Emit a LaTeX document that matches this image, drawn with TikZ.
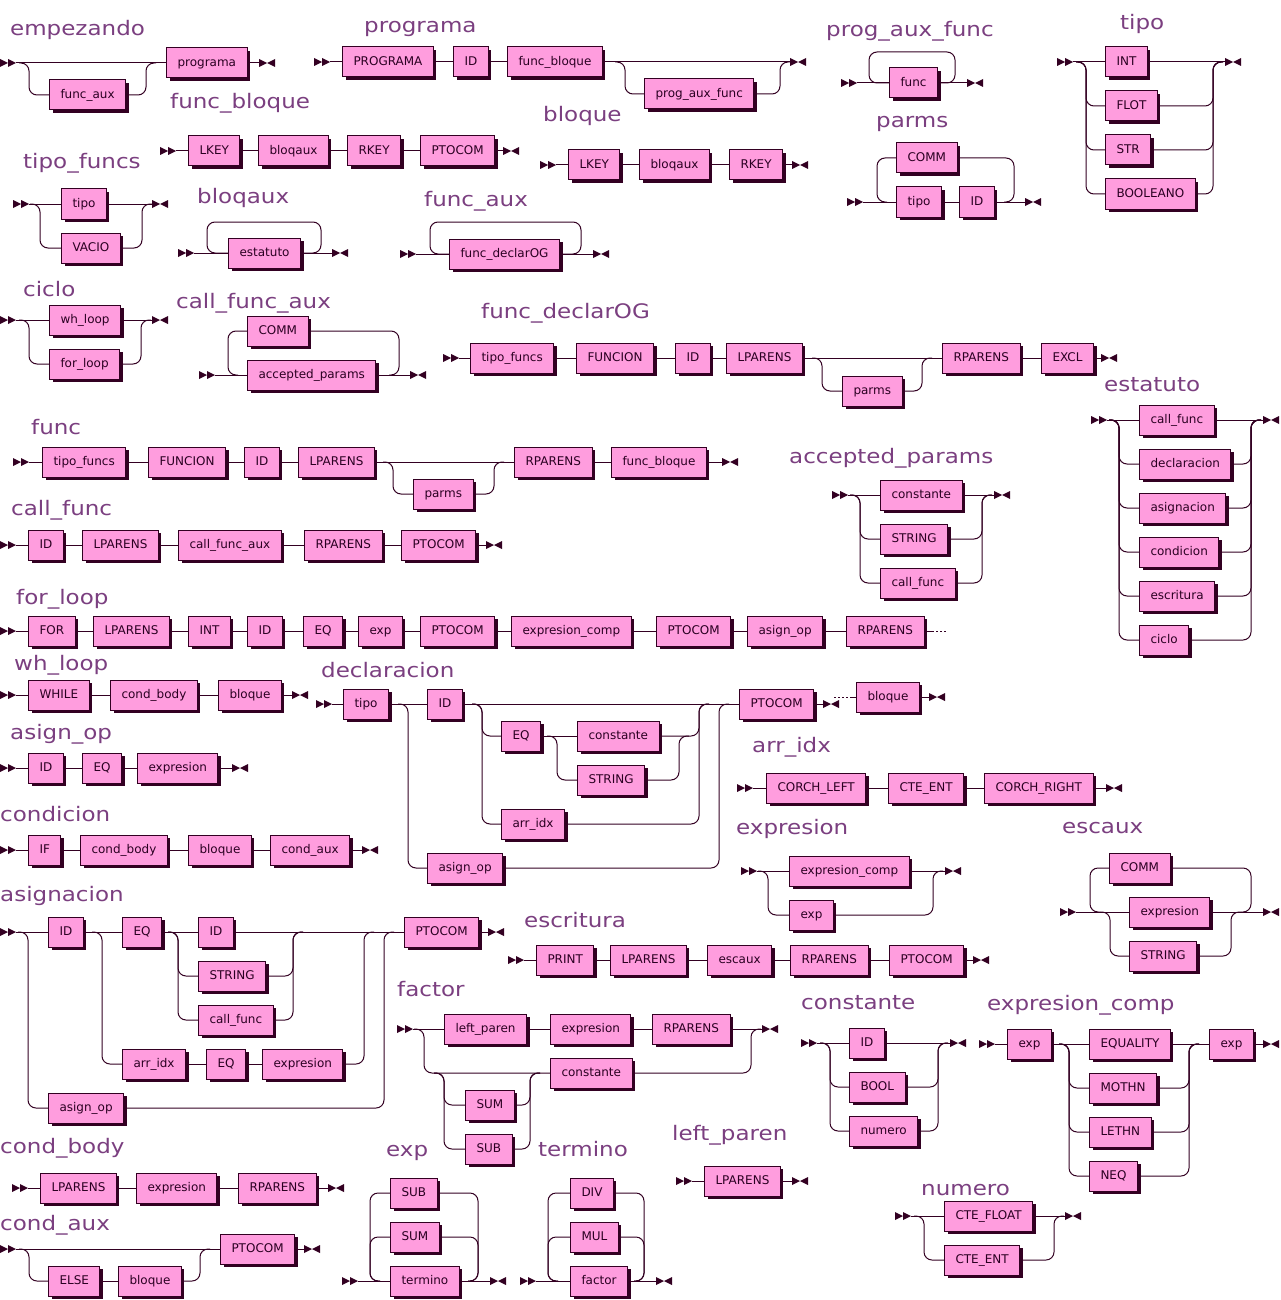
\documentclass[tikz,border=0pt]{standalone}
\usepackage{fontspec}
\setmainfont{DejaVu Sans}
\definecolor{rrdark}{HTML}{330022}
\definecolor{rrfill}{HTML}{FF9DDE}
\definecolor{rrtitle}{HTML}{7B3F80}
\definecolor{rrtext}{HTML}{2B0022}
\tikzset{
 rrl/.style={draw=rrdark, line width=1pt, rounded corners=8pt},
 rrdots/.style={draw=rrdark, line width=1pt, dash pattern=on 2pt off 2pt},
 tb/.style={draw=rrdark, line width=1pt, fill=rrfill, text=rrtext, anchor=west,
   minimum height=30pt, inner xsep=11pt, inner ysep=0pt, text height=9pt, text depth=2.5pt,
   font=\fontsize{12}{14}\selectfont,
   preaction={fill=rrdark, transform canvas={xshift=3pt,yshift=-3pt}}},
 ttl/.style={anchor=base west, inner sep=0pt, text=rrtitle, font=\fontsize{20}{24}\selectfont},
}
\newcommand\RRtitle[4]{\node[ttl] (#1) at (#2,#3) {\scalebox{1.15}[1]{#4}};}
\newcommand\RRstart[3]{\fill[rrdark] (#2,#3-4) -- (#2+8,#3) -- (#2,#3+4) -- cycle (#2+8,#3-4) -- (#2+16,#3) -- (#2+8,#3+4) -- cycle; \coordinate (#1) at (#2+16,#3);}
\newcommand\RRend[3]{\fill[rrdark] (#2,#3-4) -- (#2+8,#3) -- (#2,#3+4) -- cycle (#2+16,#3-4) -- (#2+8,#3) -- (#2+16,#3+4) -- cycle; \coordinate (#1) at (#2,#3);}
\newcommand\RRdown[3]{\draw[rrl] (#1-10,#2) -- (#1,#2) |- (#3.west);}
\newcommand\RRup[3]{\draw[rrl] (#3.east) -| (#1,#2) -- (#1+10,#2);}
\newcommand\RRlpl[3]{\draw[rrl] (#3.west) -| (#1,#2) -- (#1+10,#2);}
\newcommand\RRlpr[3]{\draw[rrl] (#3.east) -| (#1,#2) -- (#1-10,#2);}
\begin{document}
\begin{tikzpicture}[x=1pt,y=-1pt]
\fill[white] (0,0) rectangle (1280,1300);
\useasboundingbox (0,0) rectangle (1280,1300);

% empezando
\RRtitle{t-em}{10}{36}{empezando}
\RRstart{em-s}{0}{63}
\node[tb] (em-a) at (166,63) {programa};
\node[tb] (em-b) at (49,95) {func\_aux};
\RRend{em-e}{259}{63}
\draw[rrl] (em-s) -- (em-a.west) (em-a.east) -- (em-e);
\RRdown{29}{63}{em-b}
\RRup{146}{63}{em-b}

% programa
\RRtitle{t-pg}{364}{33}{programa}
\RRstart{pg-s}{314}{62}
\node[tb] (pg-a) at (342,62) {PROGRAMA};
\node[tb] (pg-b) at (453,62) {ID};
\node[tb] (pg-c) at (507,62) {func\_bloque};
\node[tb] (pg-d) at (644,94) {prog\_aux\_func};
\RRend{pg-e}{790}{62}
\draw[rrl] (pg-s) -- (pg-a.west) (pg-a.east) -- (pg-b.west) (pg-b.east) -- (pg-c.west) (pg-c.east) -- (pg-e);
\RRdown{625}{62}{pg-d}
\RRup{780}{62}{pg-d}

% prog_aux_func
\RRtitle{t-pa}{826}{37}{prog\_aux\_func}
\RRstart{pa-s}{841}{83}
\node[tb] (pa-a) at (889,83) {func};
\RRend{pa-e}{967}{83}
\draw[rrl] (pa-s) -- (pa-a.west) (pa-a.east) -- (pa-e);
\draw[rrl] (pa-a.east) -- (955,83) -- (955,52) -- (869,52) -- (869,83) -- (pa-a.west);

% tipo
\RRtitle{t-tp}{1120}{30}{tipo}
\RRstart{tp-s}{1057}{62}
\node[tb] (tp-a) at (1105,62) {INT};
\node[tb] (tp-b) at (1105,106) {FLOT};
\node[tb] (tp-c) at (1105,150) {STR};
\node[tb] (tp-d) at (1105,194) {BOOLEANO};
\RRend{tp-e}{1225}{62}
\draw[rrl] (tp-s) -- (tp-a.west) (tp-a.east) -- (tp-e);
\RRdown{1086}{62}{tp-b}\RRdown{1086}{62}{tp-c}\RRdown{1086}{62}{tp-d}
\RRup{1213}{62}{tp-b}\RRup{1213}{62}{tp-c}\RRup{1213}{62}{tp-d}

% func_bloque
\RRtitle{t-fb}{170}{109}{func\_bloque}
\RRstart{fb-s}{160}{151}
\node[tb] (fb-a) at (188,151) {LKEY};
\node[tb] (fb-b) at (258,151) {bloqaux};
\node[tb] (fb-c) at (347,151) {RKEY};
\node[tb] (fb-d) at (420,151) {PTOCOM};
\RRend{fb-e}{503}{151}
\draw[rrl] (fb-s) -- (fb-a.west) (fb-a.east) -- (fb-b.west) (fb-b.east) -- (fb-c.west) (fb-c.east) -- (fb-d.west) (fb-d.east) -- (fb-e);

% bloque
\RRtitle{t-bq}{543}{122}{bloque}
\RRstart{bq-s}{540}{165}
\node[tb] (bq-a) at (568,165) {LKEY};
\node[tb] (bq-b) at (639,165) {bloqaux};
\node[tb] (bq-c) at (729,165) {RKEY};
\RRend{bq-e}{792}{165}
\draw[rrl] (bq-s) -- (bq-a.west) (bq-a.east) -- (bq-b.west) (bq-b.east) -- (bq-c.west) (bq-c.east) -- (bq-e);

% parms
\RRtitle{t-pm}{876}{128}{parms}
\RRstart{pm-s}{847}{202}
\node[tb] (pm-a) at (896,202) {tipo};
\node[tb] (pm-b) at (959,202) {ID};
\node[tb] (pm-c) at (896,158) {COMM};
\RRend{pm-e}{1025}{202}
\draw[rrl] (pm-s) -- (pm-a.west) (pm-a.east) -- (pm-b.west) (pm-b.east) -- (pm-e);
\RRlpl{877}{202}{pm-c}
\RRlpr{1014}{202}{pm-c}

% tipo_funcs
\RRtitle{t-tf}{23}{168}{tipo\_funcs}
\RRstart{tf-s}{13}{204}
\node[tb] (tf-a) at (61,204) {tipo};
\node[tb] (tf-b) at (61,248) {VACIO};
\RRend{tf-e}{152}{204}
\draw[rrl] (tf-s) -- (tf-a.west) (tf-a.east) -- (tf-e);
\RRdown{40}{204}{tf-b}
\RRup{142}{204}{tf-b}

% bloqaux
\RRtitle{t-ba}{197}{204}{bloqaux}
\RRstart{ba-s}{178}{253}
\node[tb] (ba-a) at (228,253) {estatuto};
\RRend{ba-e}{332}{253}
\draw[rrl] (ba-s) -- (ba-a.west) (ba-a.east) -- (ba-e);
\draw[rrl] (ba-a.east) -- (321,253) -- (321,222) -- (207,222) -- (207,253) -- (ba-a.west);

% func_aux
\RRtitle{t-fa}{424}{206}{func\_aux}
\RRstart{fa-s}{400}{254}
\node[tb] (fa-a) at (449,254) {func\_declarOG};
\RRend{fa-e}{593}{254}
\draw[rrl] (fa-s) -- (fa-a.west) (fa-a.east) -- (fa-e);
\draw[rrl] (fa-a.east) -- (581,254) -- (581,222) -- (430,222) -- (430,254) -- (fa-a.west);

% ciclo
\RRtitle{t-ci}{23}{296}{ciclo}
\RRstart{ci-s}{0}{320}
\node[tb] (ci-a) at (49,320) {wh\_loop};
\node[tb] (ci-b) at (49,364) {for\_loop};
\RRend{ci-e}{152}{320}
\draw[rrl] (ci-s) -- (ci-a.west) (ci-a.east) -- (ci-e);
\RRdown{29}{320}{ci-b}
\RRup{141}{320}{ci-b}

% call_func_aux
\RRtitle{t-cf}{176}{308}{call\_func\_aux}
\RRstart{cf-s}{199}{375}
\node[tb] (cf-a) at (247,331) {COMM};
\node[tb] (cf-b) at (247,375) {accepted\_params};
\RRend{cf-e}{410}{375}
\draw[rrl] (cf-s) -- (cf-b.west) (cf-b.east) -- (cf-e);
\RRlpl{228}{375}{cf-a}
\RRlpr{399}{375}{cf-a}

% func_declarOG
\RRtitle{t-fd}{481}{318}{func\_declarOG}
\RRstart{fd-s}{443}{358}
\node[tb] (fd-a) at (470,358) {tipo\_funcs};
\node[tb] (fd-b) at (576,358) {FUNCION};
\node[tb] (fd-c) at (675,358) {ID};
\node[tb] (fd-d) at (726,358) {LPARENS};
\node[tb] (fd-f) at (942,358) {RPARENS};
\node[tb] (fd-g) at (1041,358) {EXCL};
\node[tb] (fd-p) at (842,391) {parms};
\RRend{fd-e}{1101}{358}
\draw[rrl] (fd-s) -- (fd-a.west) (fd-a.east) -- (fd-b.west) (fd-b.east) -- (fd-c.west) (fd-c.east) -- (fd-d.west) (fd-d.east) -- (fd-f.west) (fd-f.east) -- (fd-g.west) (fd-g.east) -- (fd-e);
\RRdown{822}{358}{fd-p}
\RRup{922}{358}{fd-p}

% estatuto
\RRtitle{t-es}{1104}{391}{estatuto}
\RRstart{es-s}{1091}{420}
\node[tb] (es-a) at (1139,420) {call\_func};
\node[tb] (es-b) at (1139,464) {declaracion};
\node[tb] (es-c) at (1139,508) {asignacion};
\node[tb] (es-d) at (1139,552) {condicion};
\node[tb] (es-f) at (1139,596) {escritura};
\node[tb] (es-g) at (1139,640) {ciclo};
\RRend{es-e}{1263}{420}
\draw[rrl] (es-s) -- (es-a.west) (es-a.east) -- (es-e);
\foreach \n in {b,c,d,f,g}{\RRdown{1119}{420}{es-\n}\RRup{1251}{420}{es-\n}}

% func
\RRtitle{t-fn}{31}{434}{func}
\RRstart{fn-s}{13}{462}
\node[tb] (fn-a) at (42,462) {tipo\_funcs};
\node[tb] (fn-b) at (148,462) {FUNCION};
\node[tb] (fn-c) at (244,462) {ID};
\node[tb] (fn-d) at (298,462) {LPARENS};
\node[tb] (fn-f) at (514,462) {RPARENS};
\node[tb] (fn-g) at (611,462) {func\_bloque};
\node[tb] (fn-p) at (413,494) {parms};
\RRend{fn-e}{722}{462}
\draw[rrl] (fn-s) -- (fn-a.west) (fn-a.east) -- (fn-b.west) (fn-b.east) -- (fn-c.west) (fn-c.east) -- (fn-d.west) (fn-d.east) -- (fn-f.west) (fn-f.east) -- (fn-g.west) (fn-g.east) -- (fn-e);
\RRdown{393}{462}{fn-p}
\RRup{494}{462}{fn-p}

% accepted_params
\RRtitle{t-ap}{789}{463}{accepted\_params}
\RRstart{ap-s}{832}{495}
\node[tb] (ap-a) at (880,495) {constante};
\node[tb] (ap-b) at (880,539) {STRING};
\node[tb] (ap-c) at (880,583) {call\_func};
\RRend{ap-e}{994}{495}
\draw[rrl] (ap-s) -- (ap-a.west) (ap-a.east) -- (ap-e);
\RRdown{860}{495}{ap-b}\RRdown{860}{495}{ap-c}
\RRup{982}{495}{ap-b}\RRup{982}{495}{ap-c}

% call_func
\RRtitle{t-cl}{11}{515}{call\_func}
\RRstart{cl-s}{0}{545}
\node[tb] (cl-a) at (28,545) {ID};
\node[tb] (cl-b) at (82,545) {LPARENS};
\node[tb] (cl-c) at (178,545) {call\_func\_aux};
\node[tb] (cl-d) at (304,545) {RPARENS};
\node[tb] (cl-f) at (401,545) {PTOCOM};
\RRend{cl-e}{486}{545}
\draw[rrl] (cl-s) -- (cl-a.west) (cl-a.east) -- (cl-b.west) (cl-b.east) -- (cl-c.west) (cl-c.east) -- (cl-d.west) (cl-d.east) -- (cl-f.west) (cl-f.east) -- (cl-e);

% for_loop
\RRtitle{t-fl}{16}{604}{for\_loop}
\RRstart{fl-s}{0}{631}
\node[tb] (fl-a) at (28,631) {FOR};
\node[tb] (fl-b) at (93,631) {LPARENS};
\node[tb] (fl-c) at (188,631) {INT};
\node[tb] (fl-d) at (247,631) {ID};
\node[tb] (fl-f) at (303,631) {EQ};
\node[tb] (fl-g) at (358,631) {exp};
\node[tb] (fl-h) at (420,631) {PTOCOM};
\node[tb] (fl-i) at (511,631) {expresion\_comp};
\node[tb] (fl-j) at (656,631) {PTOCOM};
\node[tb] (fl-k) at (747,631) {asign\_op};
\node[tb] (fl-l) at (846,631) {RPARENS};
\coordinate (fl-m) at (932,631);
\coordinate (fl-n) at (947,631);
\draw[rrl] (fl-s) -- (fl-a.west) (fl-a.east) -- (fl-b.west) (fl-b.east) -- (fl-c.west) (fl-c.east) -- (fl-d.west) (fl-d.east) -- (fl-f.west) (fl-f.east) -- (fl-g.west) (fl-g.east) -- (fl-h.west) (fl-h.east) -- (fl-i.west) (fl-i.east) -- (fl-j.west) (fl-j.east) -- (fl-k.west) (fl-k.east) -- (fl-l.west) (fl-l.east) -- (fl-m);
\draw[rrdots] (fl-m) -- (fl-n);
% for_loop continuation
\coordinate (fx-s) at (834,697);
\node[tb] (fx-a) at (856,697) {bloque};
\RRend{fx-e}{929}{697}
\draw[rrdots] (fx-s) -- ([xshift=-5pt]fx-a.west);
\draw[rrl] ([xshift=-5pt]fx-a.west) -- (fx-a.west) (fx-a.east) -- (fx-e);

% wh_loop
\RRtitle{t-wl}{14}{670}{wh\_loop}
\RRstart{wl-s}{0}{695}
\node[tb] (wl-a) at (28,695) {WHILE};
\node[tb] (wl-b) at (110,695) {cond\_body};
\node[tb] (wl-c) at (218,695) {bloque};
\RRend{wl-e}{292}{695}
\draw[rrl] (wl-s) -- (wl-a.west) (wl-a.east) -- (wl-b.west) (wl-b.east) -- (wl-c.west) (wl-c.east) -- (wl-e);

% declaracion
\RRtitle{t-dc}{321}{677}{declaracion}
\RRstart{dc-s}{316}{704}
\node[tb] (dc-a) at (343,704) {tipo};
\node[tb] (dc-b) at (427,704) {ID};
\node[tb] (dc-c) at (501,736) {EQ};
\node[tb] (dc-d) at (577,736) {constante};
\node[tb] (dc-f) at (577,780) {STRING};
\node[tb] (dc-g) at (501,824) {arr\_idx};
\node[tb] (dc-h) at (427,868) {asign\_op};
\node[tb] (dc-i) at (739,704) {PTOCOM};
\RRend{dc-e}{823}{704}
\draw[rrl] (dc-s) -- (dc-a.west) (dc-a.east) -- (dc-b.west) (dc-b.east) -- (dc-i.west) (dc-i.east) -- (dc-e) (dc-c.east) -- (dc-d.west);
\RRdown{408}{704}{dc-h}\RRup{719}{704}{dc-h}
\RRdown{482}{704}{dc-c}\RRdown{482}{704}{dc-g}
\RRup{699}{704}{dc-d}\RRup{699}{704}{dc-g}
\RRdown{557}{736}{dc-f}\RRup{679}{736}{dc-f}

% arr_idx
\RRtitle{t-ai}{752}{752}{arr\_idx}
\RRstart{ai-s}{737}{788}
\node[tb] (ai-a) at (766,788) {CORCH\_LEFT};
\node[tb] (ai-b) at (888,788) {CTE\_ENT};
\node[tb] (ai-c) at (984,788) {CORCH\_RIGHT};
\RRend{ai-e}{1106}{788}
\draw[rrl] (ai-s) -- (ai-a.west) (ai-a.east) -- (ai-b.west) (ai-b.east) -- (ai-c.west) (ai-c.east) -- (ai-e);

% asign_op
\RRtitle{t-ao}{10}{739}{asign\_op}
\RRstart{ao-s}{0}{768}
\node[tb] (ao-a) at (28,768) {ID};
\node[tb] (ao-b) at (82,768) {EQ};
\node[tb] (ao-c) at (137,768) {expresion};
\RRend{ao-e}{232}{768}
\draw[rrl] (ao-s) -- (ao-a.west) (ao-a.east) -- (ao-b.west) (ao-b.east) -- (ao-c.west) (ao-c.east) -- (ao-e);

% expresion
\RRtitle{t-ex}{736}{834}{expresion}
\RRstart{ex-s}{741}{871}
\node[tb] (ex-a) at (789,871) {expresion\_comp};
\node[tb] (ex-b) at (789,915) {exp};
\RRend{ex-e}{945}{871}
\draw[rrl] (ex-s) -- (ex-a.west) (ex-a.east) -- (ex-e);
\RRdown{768}{871}{ex-b}\RRup{933}{871}{ex-b}

% escaux
\RRtitle{t-ea}{1062}{833}{escaux}
\RRstart{ea-s}{1060}{912}
\node[tb] (ea-a) at (1109,868) {COMM};
\node[tb] (ea-b) at (1129,912) {expresion};
\node[tb] (ea-c) at (1129,956) {STRING};
\RRend{ea-e}{1263}{912}
\draw[rrl] (ea-s) -- (ea-b.west) (ea-b.east) -- (ea-e);
\RRdown{1110}{912}{ea-c}\RRup{1231}{912}{ea-c}
\RRlpl{1090}{912}{ea-a}\RRlpr{1251}{912}{ea-a}

% condicion
\RRtitle{t-cd}{0}{821}{condicion}
\RRstart{cd-s}{0}{850}
\node[tb] (cd-a) at (28,850) {IF};
\node[tb] (cd-b) at (80,850) {cond\_body};
\node[tb] (cd-c) at (188,850) {bloque};
\node[tb] (cd-d) at (270,850) {cond\_aux};
\RRend{cd-e}{362}{850}
\draw[rrl] (cd-s) -- (cd-a.west) (cd-a.east) -- (cd-b.west) (cd-b.east) -- (cd-c.west) (cd-c.east) -- (cd-d.west) (cd-d.east) -- (cd-e);

% asignacion
\RRtitle{t-as}{0}{901}{asignacion}
\RRstart{as-s}{0}{932}
\node[tb] (as-a) at (48,932) {ID};
\node[tb] (as-b) at (122,932) {EQ};
\node[tb] (as-c) at (198,932) {ID};
\node[tb] (as-d) at (198,976) {STRING};
\node[tb] (as-f) at (198,1020) {call\_func};
\node[tb] (as-g) at (122,1064) {arr\_idx};
\node[tb] (as-h) at (206,1064) {EQ};
\node[tb] (as-i) at (262,1064) {expresion};
\node[tb] (as-j) at (48,1108) {asign\_op};
\node[tb] (as-k) at (404,932) {PTOCOM};
\RRend{as-e}{488}{932}
\draw[rrl] (as-s) -- (as-a.west) (as-a.east) -- (as-b.west) (as-b.east) -- (as-c.west) (as-c.east) -- (as-k.west) (as-k.east) -- (as-e) (as-g.east) -- (as-h.west) (as-h.east) -- (as-i.west);
\RRdown{28}{932}{as-j}\RRup{384}{932}{as-j}
\RRdown{102}{932}{as-g}\RRup{364}{932}{as-i}
\RRdown{178}{932}{as-d}\RRdown{178}{932}{as-f}
\RRup{293}{932}{as-d}\RRup{293}{932}{as-f}

% escritura
\RRtitle{t-ec}{524}{927}{escritura}
\RRstart{ec-s}{508}{960}
\node[tb] (ec-a) at (536,960) {PRINT};
\node[tb] (ec-b) at (610,960) {LPARENS};
\node[tb] (ec-c) at (707,960) {escaux};
\node[tb] (ec-d) at (790,960) {RPARENS};
\node[tb] (ec-f) at (889,960) {PTOCOM};
\RRend{ec-e}{973}{960}
\draw[rrl] (ec-s) -- (ec-a.west) (ec-a.east) -- (ec-b.west) (ec-b.east) -- (ec-c.west) (ec-c.east) -- (ec-d.west) (ec-d.east) -- (ec-f.west) (ec-f.east) -- (ec-e);

% factor
\RRtitle{t-fc}{397}{996}{factor}
\RRstart{fc-s}{397}{1029}
\node[tb] (fc-a) at (444,1029) {left\_paren};
\node[tb] (fc-b) at (550,1029) {expresion};
\node[tb] (fc-c) at (652,1029) {RPARENS};
\node[tb] (fc-d) at (550,1073) {constante};
\node[tb] (fc-f) at (465,1105) {SUM};
\node[tb] (fc-g) at (465,1149) {SUB};
\RRend{fc-e}{762}{1029}
\draw[rrl] (fc-s) -- (fc-a.west) (fc-a.east) -- (fc-b.west) (fc-b.east) -- (fc-c.west) (fc-c.east) -- (fc-e);
\RRdown{424}{1029}{fc-d}
\RRdown{444}{1073}{fc-f}\RRdown{444}{1073}{fc-g}
\RRup{530}{1073}{fc-f}\RRup{530}{1073}{fc-g}
\RRup{751}{1029}{fc-d}

% constante
\RRtitle{t-co}{801}{1009}{constante}
\RRstart{co-s}{801}{1043}
\node[tb] (co-a) at (849,1043) {ID};
\node[tb] (co-b) at (849,1087) {BOOL};
\node[tb] (co-c) at (849,1131) {numero};
\RRend{co-e}{950}{1043}
\draw[rrl] (co-s) -- (co-a.west) (co-a.east) -- (co-e);
\RRdown{830}{1043}{co-b}\RRdown{830}{1043}{co-c}
\RRup{938}{1043}{co-b}\RRup{938}{1043}{co-c}

% expresion_comp
\RRtitle{t-ep}{987}{1010}{expresion\_comp}
\RRstart{ep-s}{979}{1044}
\node[tb] (ep-a) at (1007,1044) {exp};
\node[tb] (ep-b) at (1089,1044) {EQUALITY};
\node[tb] (ep-c) at (1089,1088) {MOTHN};
\node[tb] (ep-d) at (1089,1132) {LETHN};
\node[tb] (ep-f) at (1089,1176) {NEQ};
\node[tb] (ep-g) at (1209,1044) {exp};
\RRend{ep-e}{1263}{1044}
\draw[rrl] (ep-s) -- (ep-a.west) (ep-a.east) -- (ep-b.west) (ep-b.east) -- (ep-g.west) (ep-g.east) -- (ep-e);
\foreach \n in {c,d,f}{\RRdown{1069}{1044}{ep-\n}\RRup{1189}{1044}{ep-\n}}

% cond_body
\RRtitle{t-cb}{0}{1153}{cond\_body}
\RRstart{cb-s}{12}{1188}
\node[tb] (cb-a) at (40,1188) {LPARENS};
\node[tb] (cb-b) at (136,1188) {expresion};
\node[tb] (cb-c) at (238,1188) {RPARENS};
\RRend{cb-e}{328}{1188}
\draw[rrl] (cb-s) -- (cb-a.west) (cb-a.east) -- (cb-b.west) (cb-b.east) -- (cb-c.west) (cb-c.east) -- (cb-e);

% cond_aux
\RRtitle{t-ca}{0}{1230}{cond\_aux}
\RRstart{ca-s}{0}{1249}
\node[tb] (ca-a) at (220,1249) {PTOCOM};
\node[tb] (ca-b) at (48,1281) {ELSE};
\node[tb] (ca-c) at (118,1281) {bloque};
\RRend{ca-e}{304}{1249}
\draw[rrl] (ca-s) -- (ca-a.west) (ca-a.east) -- (ca-e) (ca-b.east) -- (ca-c.west);
\RRdown{29}{1249}{ca-b}\RRup{200}{1249}{ca-c}

% exp
\RRtitle{t-xp}{386}{1156}{exp}
\RRstart{xp-s}{342}{1281}
\node[tb] (xp-a) at (390,1193) {SUB};
\node[tb] (xp-b) at (390,1237) {SUM};
\node[tb] (xp-c) at (390,1281) {termino};
\RRend{xp-e}{490}{1281}
\draw[rrl] (xp-s) -- (xp-c.west) (xp-c.east) -- (xp-e);
\RRlpl{370}{1281}{xp-a}\RRlpl{370}{1281}{xp-b}
\RRlpr{478}{1281}{xp-a}\RRlpr{478}{1281}{xp-b}

% termino
\RRtitle{t-tm}{538}{1156}{termino}
\RRstart{tm-s}{520}{1281}
\node[tb] (tm-a) at (570,1193) {DIV};
\node[tb] (tm-b) at (570,1237) {MUL};
\node[tb] (tm-c) at (570,1281) {factor};
\RRend{tm-e}{656}{1281}
\draw[rrl] (tm-s) -- (tm-c.west) (tm-c.east) -- (tm-e);
\RRlpl{548}{1281}{tm-a}\RRlpl{548}{1281}{tm-b}
\RRlpr{644}{1281}{tm-a}\RRlpr{644}{1281}{tm-b}

% left_paren
\RRtitle{t-lp}{672}{1140}{left\_paren}
\RRstart{lp-s}{676}{1181}
\node[tb] (lp-a) at (704,1181) {LPARENS};
\RRend{lp-e}{792}{1181}
\draw[rrl] (lp-s) -- (lp-a.west) (lp-a.east) -- (lp-e);

% numero
\RRtitle{t-nu}{921}{1195}{numero}
\RRstart{nu-s}{895}{1216}
\node[tb] (nu-a) at (944,1216) {CTE\_FLOAT};
\node[tb] (nu-b) at (944,1260) {CTE\_ENT};
\RRend{nu-e}{1065}{1216}
\draw[rrl] (nu-s) -- (nu-a.west) (nu-a.east) -- (nu-e);
\RRdown{924}{1216}{nu-b}\RRup{1054}{1216}{nu-b}
\end{tikzpicture}
\end{document}
